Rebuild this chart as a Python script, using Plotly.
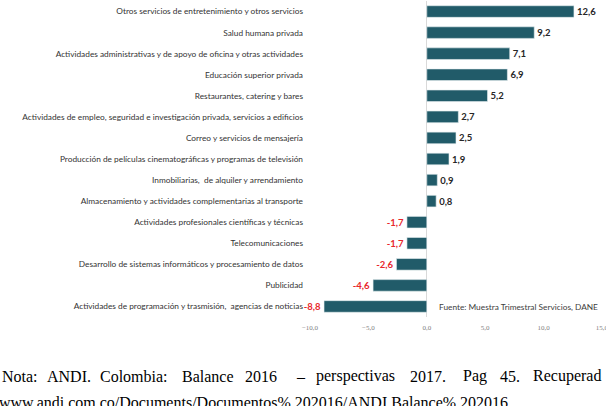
import plotly.graph_objects as go

categories = [
    "Otros servicios de entretenimiento y otros servicios",
    "Salud humana privada",
    "Actividades administrativas y de apoyo de oficina y otras actividades",
    "Educación superior privada",
    "Restaurantes, catering y bares",
    "Actividades de empleo, seguridad e investigación privada, servicios a edificios",
    "Correo y servicios de mensajería",
    "Producción de películas cinematográficas y programas de televisión",
    "Inmobiliarias,  de alquiler y arrendamiento",
    "Almacenamiento y actividades complementarias al transporte",
    "Actividades profesionales científicas y técnicas",
    "Telecomunicaciones",
    "Desarrollo de sistemas informáticos y procesamiento de datos",
    "Publicidad",
    "Actividades de programación y trasmisión,  agencias de noticias",
]
values = [12.6, 9.2, 7.1, 6.9, 5.2, 2.7, 2.5, 1.9, 0.9, 0.8, -1.7, -1.7, -2.6, -4.6, -8.8]
x_ticks = [-10, -5, 0, 5, 10, 15]
source_text = "Fuente: Muestra Trimestral Servicios, DANE"
note_words = ["Nota:", "ANDI.", "Colombia:", "Balance", "2016", "–", "perspectivas",
              "2017.", "Pag", "45.", "Recuperad"]
note_line2 = "www.andi.com.co/Documents/Documentos% 202016/ANDI Balance% 202016"

# layout constants (pixels)
W, H = 606, 406
ML, MR, MT, MB = 310, 4, 1, 89
PW, PH = W - ML - MR, H - MT - MB


def px_x(px):
    return (px - ML) / PW


def px_y(py):
    return (H - MB - py) / PH


labels = [f"{v:.1f}".replace(".", ",") for v in values]
label_colors = ["#262626" if v >= 0 else "#e8262b" for v in values]

fig = go.Figure(
    go.Bar(
        x=values,
        y=categories,
        orientation="h",
        marker=dict(color="#215b69", line=dict(color="#e6eef0", width=0.6)),
        text=labels,
        textposition="outside",
        textfont=dict(family="Lato", size=9.5, color=label_colors, weight="bold"),
        constraintext="none",
        cliponaxis=False,
        hoverinfo="skip",
    )
)

annotations = [
    dict(
        text=source_text, x=px_x(437), y=px_y(307), xref="paper", yref="paper",
        xanchor="left", yanchor="middle", showarrow=False,
        font=dict(family="Lato", size=8.3, color="#404040"),
    )
]
note_x = [2, 47, 100, 182, 245, 296, 316, 410, 463, 500, 533]
for w, xp in zip(note_words, note_x):
    annotations.append(dict(
        text=w, x=px_x(xp - 2), y=px_y(376), xref="paper", yref="paper",
        xanchor="left", yanchor="middle", showarrow=False,
        font=dict(family="Liberation Serif", size=16, color="#000000"),
    ))
annotations.append(dict(
    text=note_line2, x=px_x(-3), y=px_y(402), xref="paper", yref="paper",
    xanchor="left", yanchor="middle", showarrow=False,
    font=dict(family="Liberation Serif", size=16, color="#000000"),
))

fig.update_layout(
    width=W, height=H,
    margin=dict(l=ML, r=MR, t=MT, b=MB, autoexpand=False),
    paper_bgcolor="white", plot_bgcolor="white",
    separators=",.",
    bargap=0.45,
    showlegend=False,
    annotations=annotations,
    xaxis=dict(
        range=[-10, 15.001], tickvals=x_ticks, tickformat=".1f",
        showgrid=False, zeroline=True, zerolinecolor="#d9d9d9", zerolinewidth=1,
        showline=False, ticks="outside", ticklen=4, tickcolor="rgba(0,0,0,0)",
        tickfont=dict(family="Liberation Serif", size=7, color="#808080"),
        ticklabeloverflow="allow",
        fixedrange=True,
    ),
    yaxis=dict(
        autorange="reversed", showgrid=False, showline=False,
        ticks="", ticklabelstandoff=6,
        tickfont=dict(family="Lato", size=8.3, color="#333333"),
        fixedrange=True,
    ),
)

fig.write_html("out.html")
